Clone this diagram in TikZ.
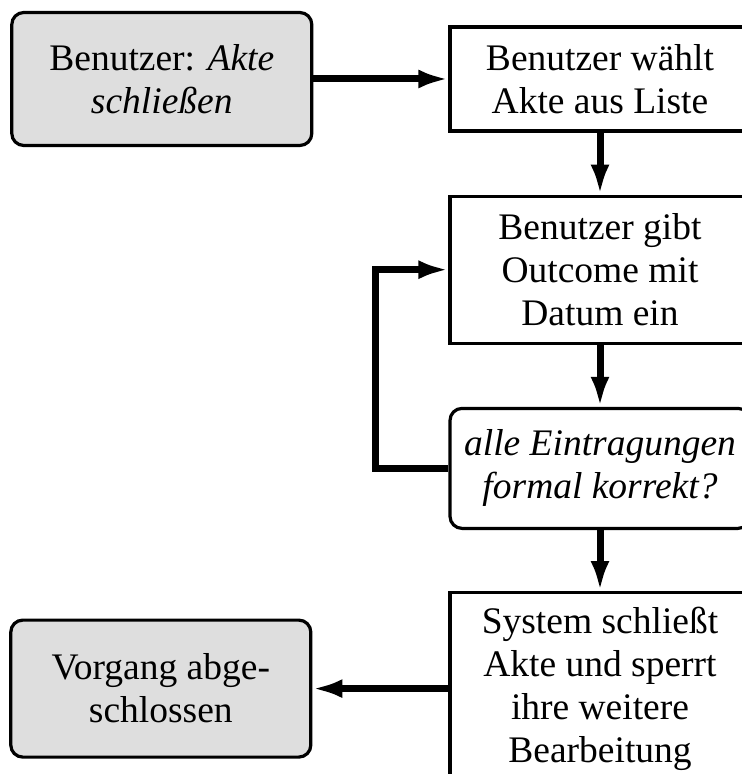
\documentclass[tikz,border=0pt]{standalone}
\usepackage{fontspec}
\setmainfont{Liberation Serif}
\usepackage{tikz}
\usetikzlibrary{arrows.meta,positioning}
\tikzset{>={Latex[length=15pt,width=9.5pt]}}
\definecolor{boxgray}{RGB}{222,222,222}

\begin{document}
\begin{tikzpicture}[node distance={31pt}, line width=1.6pt,
  font=\fontsize{18.75pt}{21.5pt}\selectfont,
  main/.style = {draw, align=center, inner sep=0pt, minimum width=150pt},
  term/.style = {main, fill=boxgray, rounded corners=6pt},
  query/.style = {main, rounded corners=6pt},
  flow/.style = {->, line width=3.5pt}]
\useasboundingbox (0,0) rectangle (370.5pt,-387pt);
\node[main, minimum height=52pt] (2) at (300pt,-39.5pt) {Benutzer wählt\\Akte aus Liste};
\node[term, minimum height=66.5pt] (1) [left=67.5pt of 2] {Benutzer: \textit{Akte}\\\textit{schließen}};
\node[main, minimum height=73.5pt] (3) [below=of 2] {Benutzer gibt\\Outcome mit\\Datum ein};
\node[query, minimum height=60pt] (4) [below=of 3] {\itshape alle Eintragungen\\\itshape formal korrekt?};
\node[main, minimum height=96pt] (5) [below=30.5pt of 4] {System schließt\\Akte und sperrt\\ihre weitere\\Bearbeitung};
\node[term, minimum height=68.5pt] (6) [left=68pt of 5] {Vorgang abge-\\schlossen};
\draw[flow] (1) -- (2);
\draw[flow] (2) -- (3);
\draw[flow] (3) -- (4);
\draw[flow] (4.west) -- ++(-36.5pt,0) |- (3.west);
\draw[flow] (4) -- (5);
\draw[flow] (5) -- (6);
\end{tikzpicture}
\end{document}
